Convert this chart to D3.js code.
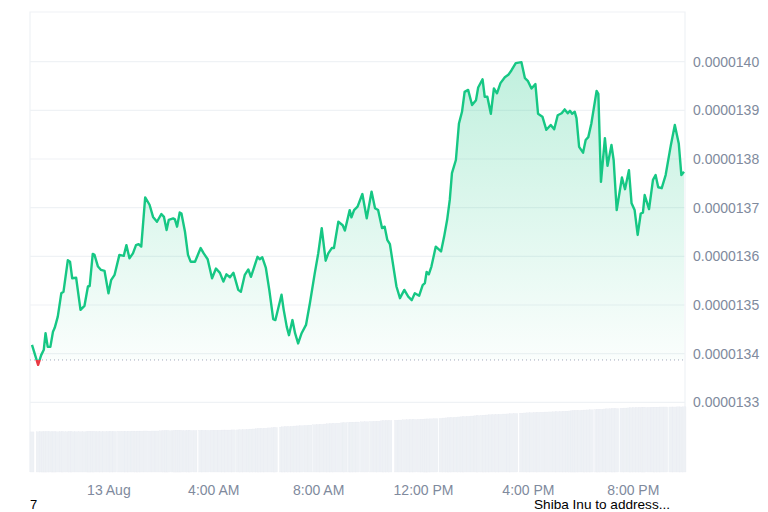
<!DOCTYPE html>
<html>
<head>
<meta charset="utf-8">
<script src="https://cdn.jsdelivr.net/npm/d3@7"></script>
<style>
  html, body { margin: 0; padding: 0; background: #fff; }
  svg { display: block; font-family: "Liberation Sans", Arial, sans-serif; }
</style>
</head>
<body>
<svg id="chart" width="768" height="512"></svg>
<script>
// minutes relative to 13 Aug 00:00
const minutes = [
  -176,-162,-155,-149,-145,-140,-134,-128,-124,-117,-109,-104,-94,-89,-84,-75,-65,-56,-48,-44,-37,-33,-25,-18,-10,-1,5,13,24,34,40,47,55,62,68,74,83,93,101,110,120,
  126,132,137,147,151,156,162,166,174,181,187,197,210,217,226,236,245,254,262,269,277,285,296,302,311,319,325,332,340,345,351,359,367,376,381,395,
  400,407,412,420,426,433,441,451,460,471,479,487,496,502,510,515,525,535,540,551,555,561,569,580,590,601,609,616,625,631,637,643,658,666,676,685,693,
  700,710,718,723,727,732,738,748,760,767,774,780,785,794,801,808,814,822,831,840,845,855,860,866,874,881,888,896,906,914,921,931,944,952,959,967,976,982,992,1001,
  1011,1019,1027,1036,1043,1050,1055,1060,1066,1070,1076,1085,1091,1097,1104,1116,1120,1126,1135,1141,1150,1155,1162,1174,1181,1190,1196,1203,1210,1217,1222,1226,1236,1245,1251,1257,1265,1274,1286,1295,1304,1310,1316
];
const prices = [
  1.3418e-5,1.3377e-5,1.3397e-5,1.3408e-5,1.3442e-5,1.3414e-5,1.3414e-5,1.3445e-5,1.3453e-5,1.3476e-5,1.3524e-5,1.3527e-5,1.3592e-5,1.3589e-5,1.3555e-5,1.3556e-5,1.3490e-5,1.3498e-5,1.3538e-5,1.3539e-5,1.3605e-5,1.3603e-5,1.3579e-5,1.3572e-5,1.3570e-5,1.3524e-5,1.3551e-5,1.3562e-5,1.3603e-5,1.3601e-5,1.3623e-5,1.3596e-5,1.3606e-5,1.3623e-5,1.3625e-5,1.3620e-5,1.3721e-5,1.3706e-5,1.3681e-5,1.3671e-5,1.3687e-5,
  1.3681e-5,1.3654e-5,1.3675e-5,1.3678e-5,1.3676e-5,1.3661e-5,1.3690e-5,1.3688e-5,1.3651e-5,1.3603e-5,1.3589e-5,1.3589e-5,1.3617e-5,1.3606e-5,1.3594e-5,1.3555e-5,1.3575e-5,1.3566e-5,1.3548e-5,1.3563e-5,1.3557e-5,1.3566e-5,1.3531e-5,1.3527e-5,1.3562e-5,1.3573e-5,1.3558e-5,1.3577e-5,1.3599e-5,1.3594e-5,1.3598e-5,1.3577e-5,1.3531e-5,1.3471e-5,1.3469e-5,1.3521e-5,
  1.3490e-5,1.3455e-5,1.3438e-5,1.3469e-5,1.3442e-5,1.3421e-5,1.3442e-5,1.3459e-5,1.3504e-5,1.3565e-5,1.3606e-5,1.3658e-5,1.3591e-5,1.3606e-5,1.3617e-5,1.3617e-5,1.3671e-5,1.3664e-5,1.3653e-5,1.3695e-5,1.3680e-5,1.3695e-5,1.3702e-5,1.3728e-5,1.3678e-5,1.3733e-5,1.3699e-5,1.3695e-5,1.3658e-5,1.3661e-5,1.3634e-5,1.3625e-5,1.3538e-5,1.3514e-5,1.3531e-5,1.3517e-5,1.3510e-5,
  1.3524e-5,1.3519e-5,1.3541e-5,1.3545e-5,1.3568e-5,1.3563e-5,1.3579e-5,1.3620e-5,1.3610e-5,1.3640e-5,1.3675e-5,1.3716e-5,1.3771e-5,1.3798e-5,1.3873e-5,1.3897e-5,1.3938e-5,1.3942e-5,1.3911e-5,1.3921e-5,1.3947e-5,1.3964e-5,1.3928e-5,1.3928e-5,1.3893e-5,1.3945e-5,1.3935e-5,1.3956e-5,1.3968e-5,1.3973e-5,1.3982e-5,1.3997e-5,1.3999e-5,1.3966e-5,1.3960e-5,1.3945e-5,1.3954e-5,1.3893e-5,1.3887e-5,1.3860e-5,
  1.3870e-5,1.3861e-5,1.3890e-5,1.3894e-5,1.3902e-5,1.3894e-5,1.3899e-5,1.3893e-5,1.3897e-5,1.3884e-5,1.3825e-5,1.3813e-5,1.3839e-5,1.3845e-5,1.3873e-5,1.3940e-5,1.3934e-5,1.3753e-5,1.3843e-5,1.3786e-5,1.3829e-5,1.3798e-5,1.3695e-5,1.3762e-5,1.3738e-5,1.3777e-5,1.3709e-5,1.3695e-5,1.3644e-5,1.3688e-5,1.3690e-5,1.3726e-5,1.3697e-5,1.3757e-5,1.3767e-5,1.3742e-5,1.3740e-5,1.3767e-5,1.3829e-5,1.3870e-5,1.3832e-5,1.3767e-5,1.3774e-5
];
// volume (millions USD), one bar per price point
const volumes = [
  301,302,302,301,302,303,302,302,301,302,303,302,302,303,302,303,303,302,303,304,303,304,304,303,304,305,305,305,306,306,305,306,307,306,307,307,308,307,308,308,309,
  309,309,310,310,310,311,311,311,311,312,312,312,313,313,313,314,314,314,315,315,315,316,316,317,319,320,322,323,325,326,327,329,331,333,334,337,
  339,340,341,343,345,346,348,350,352,355,357,358,360,362,363,365,367,369,370,372,373,374,375,377,378,380,381,382,384,385,386,387,389,390,392,393,394,
  395,396,397,397,398,398,399,401,403,405,406,408,409,411,413,414,416,418,420,422,423,425,427,428,430,431,432,433,435,436,438,440,442,443,444,445,447,448,449,450,
  451,452,453,455,456,457,458,459,460,461,462,464,465,466,467,469,470,471,473,474,475,476,477,479,480,481,482,483,484,485,485,486,486,487,487,487,488,488,488,488,489,488,489
];
const priceTicks = [1.33e-5,1.34e-5,1.35e-5,1.36e-5,1.37e-5,1.38e-5,1.39e-5,1.40e-5];
const openPrice = 1.3387e-5;
const volumeMax = 488;
const captionLeft = "7";
const captionRight = "Shiba Inu to address...";

(function () {
const data = minutes.map((m, i) => ({
  t: new Date(2023, 7, 13, 0, m),
  p: prices[i],
  v: volumes[i]
}));

const svg = d3.select("#chart");
const pL = 30, pR = 685, pT = 12, pB = 472;

const x = d3.scaleTime()
  .domain(d3.extent(data, d => d.t))
  .range([32, 684]);
const y = d3.scaleLinear()
  .domain([1.33e-5, 1.40e-5])
  .range([402.3, 61.7]);
const yv = d3.scaleLinear()
  .domain([0, volumeMax])
  .range([pB, 407]);

const defs = svg.append("defs");
const yBase = y(openPrice);
const grad = defs.append("linearGradient")
  .attr("id", "gfill").attr("gradientUnits", "userSpaceOnUse")
  .attr("x1", 0).attr("x2", 0).attr("y1", y(1.40e-5)).attr("y2", yBase);
grad.append("stop").attr("offset", 0).attr("stop-color", "#16c784").attr("stop-opacity", 0.27);
grad.append("stop").attr("offset", 1).attr("stop-color", "#16c784").attr("stop-opacity", 0.02);

defs.append("clipPath").attr("id", "above")
  .append("rect").attr("x", 0).attr("y", 0).attr("width", 768).attr("height", yBase);
defs.append("clipPath").attr("id", "below")
  .append("rect").attr("x", 0).attr("y", yBase).attr("width", 768).attr("height", 512 - yBase);

// frame
svg.append("path")
  .attr("d", `M${pL},${pB}V${pT}H${pR}V${pB}`)
  .attr("fill", "none").attr("stroke", "#eff2f5").attr("stroke-width", 1.2);

// gridlines + labels
const gy = svg.append("g");
gy.selectAll("line").data(priceTicks).join("line")
  .attr("x1", pL).attr("x2", pR)
  .attr("y1", d => y(d)).attr("y2", d => y(d))
  .attr("stroke", "#eff2f5").attr("stroke-width", 1.2);
gy.selectAll("text").data(priceTicks).join("text")
  .attr("x", 693).attr("y", d => y(d))
  .attr("dy", "0.35em")
  .attr("font-size", 14).attr("fill", "#808a9d")
  .text(d => d3.format(".7f")(d));

// volume bars
svg.append("g").selectAll("rect").data(data).join("rect")
  .attr("x", d => x(d.t) - 2)
  .attr("width", 4)
  .attr("y", d => yv(d.v))
  .attr("height", d => pB - yv(d.v))
  .attr("fill", "#eef1f5")
  .attr("stroke", "#e7eaf0").attr("stroke-width", 0.3);

// areas
const area = d3.area().x(d => x(d.t)).y0(yBase).y1(d => y(d.p));
svg.append("path").datum(data).attr("d", area)
  .attr("fill", "url(#gfill)").attr("clip-path", "url(#above)");
svg.append("path").datum(data).attr("d", area)
  .attr("fill", "rgba(234,57,67,0.12)").attr("clip-path", "url(#below)");

// baseline dotted
svg.append("line")
  .attr("x1", pL).attr("x2", pR).attr("y1", yBase).attr("y2", yBase)
  .attr("stroke", "#a1a7bb").attr("stroke-width", 1)
  .attr("stroke-dasharray", "1,3");

// line
const line = d3.line().x(d => x(d.t)).y(d => y(d.p));
svg.append("path").datum(data).attr("d", line)
  .attr("fill", "none").attr("stroke", "#16c784").attr("stroke-width", 2.4)
  .attr("stroke-linejoin", "round").attr("clip-path", "url(#above)");
svg.append("path").datum(data).attr("d", line)
  .attr("fill", "none").attr("stroke", "#ea3943").attr("stroke-width", 2.4)
  .attr("stroke-linejoin", "round").attr("clip-path", "url(#below)");

// x axis labels
const ticks = x.ticks(d3.timeHour.every(4));
const fmt = d => d.getHours() === 0 ? d3.timeFormat("%-d %b")(d) : d3.timeFormat("%-I:%M %p")(d);
svg.append("g").selectAll("text").data(ticks).join("text")
  .attr("x", d => x(d)).attr("y", 494.5)
  .attr("text-anchor", "middle")
  .attr("font-size", 14).attr("fill", "#808a9d")
  .text(fmt);

// captions
svg.append("text").attr("x", 30).attr("y", 509.2).attr("font-size", 13).attr("fill", "#000").text(captionLeft);
svg.append("text").attr("x", 534).attr("y", 509.2).attr("font-size", 13.6).attr("fill", "#000").text(captionRight);
})();
</script>
</body>
</html>
